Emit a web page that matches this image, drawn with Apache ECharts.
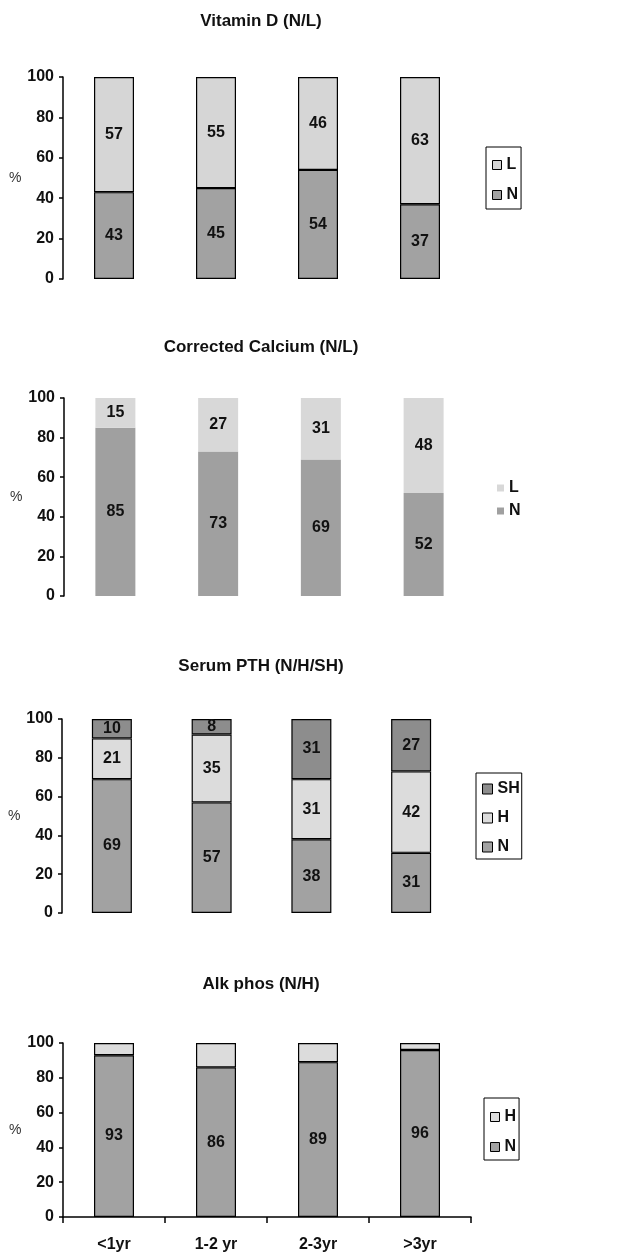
<!DOCTYPE html>
<html>
<head>
<meta charset="utf-8">
<script src="https://cdn.jsdelivr.net/npm/echarts@6/dist/echarts.min.js"></script>
<style>
html,body{margin:0;padding:0;background:#fff;}
#c{width:618px;height:1257px;}
</style>
</head>
<body>
<div id="c"></div>
<script>
// ---- data ----
var categories = ['<1yr', '1-2 yr', '2-3yr', '>3yr'];
var yTicks = [0, 20, 40, 60, 80, 100];
var titles = ['Vitamin D (N/L)', 'Corrected Calcium (N/L)', 'Serum PTH (N/H/SH)', 'Alk phos (N/H)'];

var vitD_N = [43, 45, 54, 37];
var vitD_L = [57, 55, 46, 63];

var calc_N = [85, 73, 69, 52];
var calc_L = [15, 27, 31, 48];

var pth_N = [69, 57, 38, 31];
var pth_H = [21, 35, 31, 42];
var pth_SH = [10, 8, 31, 27];

var alk_N = [93, 86, 89, 96];
var alk_H = [7, 14, 11, 4];

// ---- styles ----
var FONT = '"Liberation Sans", Arial, sans-serif';
var C_N = '#a2a2a2', C_L = '#d6d6d6', C_SH = '#8d8d8d', C_H = '#dcdcdc';
var C2_N = '#a0a0a0', C2_L = '#d8d8d8';

var grids = [
  {left: 63, right: 147, top: 77, height: 202},
  {left: 64, right: 143, top: 398, height: 198},
  {left: 62, right: 157, top: 719, height: 194},
  {left: 63, right: 147, top: 1043, height: 174}
];
var titleY = [22, 348, 667, 985];

function yAxis(i) {
  return {
    type: 'value', gridIndex: i, min: yTicks[0], max: yTicks[yTicks.length - 1], interval: 20,
    name: '%', nameLocation: 'middle', nameGap: 40, nameRotate: 0,
    nameTextStyle: {fontFamily: FONT, fontSize: 14, color: '#333'},
    axisLine: {show: true, lineStyle: {color: '#000', width: 1.5}},
    axisTick: {show: true, length: 4, lineStyle: {color: '#000', width: 1.5}},
    axisLabel: {margin: 9, fontFamily: FONT, fontSize: 16, fontWeight: 'bold', color: '#111'},
    splitLine: {show: false}
  };
}
function xAxis(i, showIt) {
  return {
    type: 'category', gridIndex: i, data: categories, show: showIt,
    axisLine: {show: true, lineStyle: {color: '#000', width: 1.5}},
    axisTick: {show: true, length: 6, lineStyle: {color: '#000', width: 1.5}},
    axisLabel: {margin: 20, fontFamily: FONT, fontSize: 16, fontWeight: 'bold', color: '#111'}
  };
}
function lbl(show) {
  return {show: show, position: 'inside', fontFamily: FONT, fontSize: 16, fontWeight: 'bold', color: '#111'};
}
function bar(name, data, gi, color, border, showLabel) {
  return {
    type: 'bar', name: name, data: data, xAxisIndex: gi, yAxisIndex: gi, stack: 's' + gi,
    barWidth: 40,
    itemStyle: {color: color, borderColor: border ? '#000' : color, borderWidth: border ? 1.2 : 0},
    label: lbl(showLabel),
    emphasis: {disabled: true},
    animation: false
  };
}
function legend(opts, items) {
  var base = {
    orient: 'vertical', icon: 'rect',
    textStyle: {fontFamily: FONT, fontSize: 16, fontWeight: 'bold', color: '#111', lineHeight: 16},
    selectedMode: false,
    data: items
  };
  for (var k in opts) base[k] = opts[k];
  return base;
}
function li(name, color, border) {
  return {name: name, itemStyle: {color: color, borderColor: border ? '#000' : color, borderWidth: border ? 1 : 0}};
}

var option = {
  backgroundColor: '#fff',
  animation: false,
  title: titles.map(function (t, i) {
    return {text: t, left: 261, top: titleY[i] - 9, textAlign: 'center', padding: 0,
      textStyle: {fontFamily: FONT, fontSize: 17, fontWeight: 'bold', color: '#111'}};
  }),
  grid: grids,
  xAxis: [xAxis(0, false), xAxis(1, false), xAxis(2, false), xAxis(3, true)],
  yAxis: [yAxis(0), yAxis(1), yAxis(2), yAxis(3)],
  legend: [
    legend({left: 486, top: 147, borderColor: '#000', borderWidth: 1, padding: [10, 3, 6, 6],
      itemWidth: 9, itemHeight: 9, itemGap: 14}, [li('L', C_L, true), li('N', C_N, true)]),
    legend({left: 497, top: 480, padding: 0, itemWidth: 7, itemHeight: 7, itemGap: 7},
      [li('L', C2_L, false), li('N', C2_N, false)]),
    legend({left: 476, top: 773, borderColor: '#000', borderWidth: 1, padding: [8, 2, 4, 6],
      itemWidth: 10, itemHeight: 10, itemGap: 13}, [li('SH', C_SH, true), li('H', C_H, true), li('N', C_N, true)]),
    legend({left: 484, top: 1098, borderColor: '#000', borderWidth: 1, padding: [11, 3, 5, 6],
      itemWidth: 9, itemHeight: 9, itemGap: 14}, [li('H', C_H, true), li('N', C_N, true)])
  ],
  series: [
    bar('N', vitD_N, 0, C_N, true, true),
    bar('L', vitD_L, 0, C_L, true, true),
    bar('N', calc_N, 1, C2_N, false, true),
    bar('L', calc_L, 1, C2_L, false, true),
    bar('N', pth_N, 2, C_N, true, true),
    bar('H', pth_H, 2, C_H, true, true),
    bar('SH', pth_SH, 2, C_SH, true, true),
    bar('N', alk_N, 3, C_N, true, true),
    bar('H', alk_H, 3, C_H, true, false)
  ]
};

var chart = echarts.init(document.getElementById('c'), null, {renderer: 'canvas'});
chart.setOption(option);
</script>
</body>
</html>
